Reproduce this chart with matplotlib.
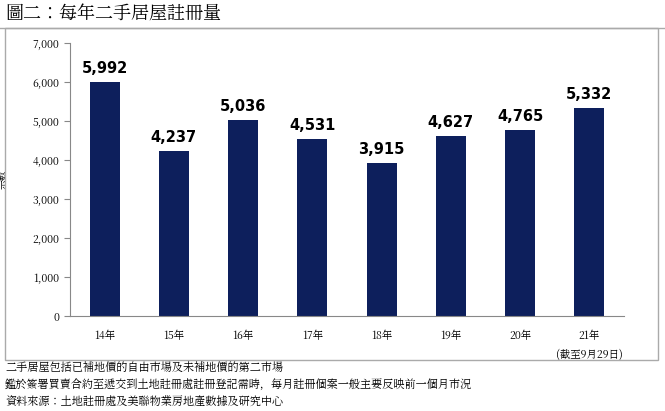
import matplotlib
matplotlib.use("Agg")
import matplotlib.pyplot as plt
from matplotlib import font_manager as fm
from matplotlib.patches import Rectangle
from matplotlib.lines import Line2D

cjk = None
for f in fm.fontManager.ttflist:
    if "CJK" in f.name and ("TC" in f.name or cjk is None):
        cjk = f.name
for f in fm.findSystemFonts():
    if "CJK" in f and cjk is None:
        fm.fontManager.addfont(f)
        cjk = fm.FontProperties(fname=f).get_name()
plt.rcParams["font.family"] = [cjk or "Noto Sans CJK TC", "DejaVu Sans"]

categories = ["14年", "15年", "16年", "17年", "18年", "19年", "20年", "21年\n(截至9月29日)"]
values = [5992, 4237, 5036, 4531, 3915, 4627, 4765, 5332]
yticks = [0, 1000, 2000, 3000, 4000, 5000, 6000, 7000]

W, H = 665, 411
fig = plt.figure(figsize=(W/100, H/100), dpi=100)

fig.text(5/W, 1-14/H, "圖二：每年二手居屋註冊量", fontsize=13, va="center", ha="left")
fig.add_artist(Line2D([0, 1], [1-28/H, 1-28/H], color="#aaaaaa", lw=1))
fig.add_artist(Rectangle((5/W, 1-360/H), 653/W, 332/H, fill=False, ec="#aaaaaa", lw=1))

ax = fig.add_axes([70/W, 1-316/H, 554/W, 273/H])
x = range(len(values))
ax.bar(x, values, width=0.43, color="#0d1f5c")
for xi, v in zip(x, values):
    ax.text(xi, v + 150, f"{v:,}", ha="center", va="bottom", fontsize=10.5, fontweight="bold", family="DejaVu Sans")
ax.set_ylim(0, 7000)
ax.set_xlim(-0.5, len(values) - 0.5)
ax.set_yticks(yticks)
ax.set_yticklabels([f"{t:,}" for t in yticks], fontsize=7.5)
ax.set_xticks(list(x))
ax.set_xticklabels(categories, fontsize=7.5, linespacing=1.7)
ax.tick_params(axis="x", length=0, pad=10)
ax.tick_params(axis="y", length=4, color="#888888")
for s in ["top", "right"]:
    ax.spines[s].set_visible(False)
for s in ["left", "bottom"]:
    ax.spines[s].set_color("#888888")
ax.set_ylabel("宗數", fontsize=7, labelpad=18)

notes = ["二手居屋包括已補地價的自由市場及未補地價的第二市場",
         "鑑於簽署買賣合約至遞交到土地註冊處註冊登記需時，每月註冊個案一般主要反映前一個月市況",
         "資料來源：土地註冊處及美聯物業房地產數據及研究中心"]
for i, n in enumerate(notes):
    fig.text(5/W, 1-(369+i*17)/H, n, fontsize=8, va="center", ha="left")

fig.savefig("out.png", dpi=100)
